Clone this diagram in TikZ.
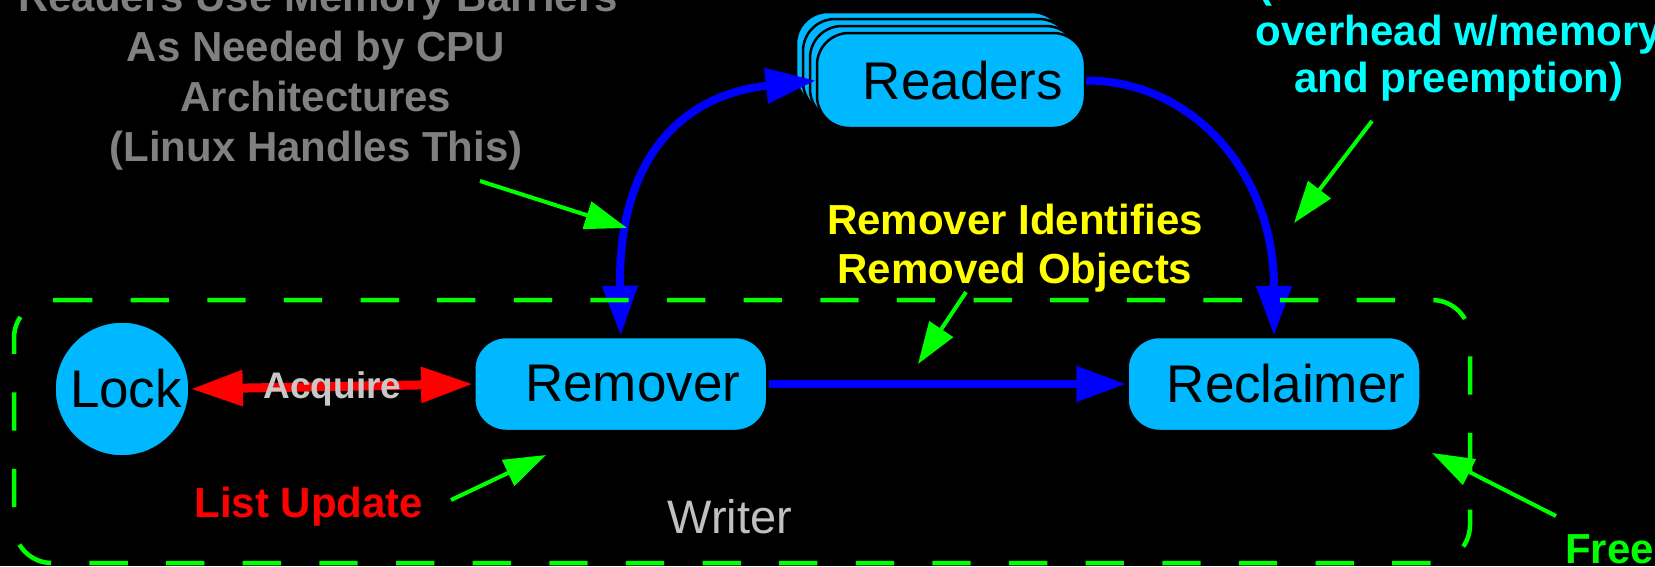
\documentclass[tikz,border=0pt]{standalone}
\usepackage{fontspec}
\setmainfont{Liberation Sans}
\usetikzlibrary{arrows.meta}

\definecolor{boxcyan}{RGB}{0,184,255}
\definecolor{pblue}{RGB}{0,0,255}
\definecolor{pred}{RGB}{255,0,0}
\definecolor{pgreen}{RGB}{0,255,0}
\definecolor{pyellow}{RGB}{255,255,0}
\definecolor{pcyan}{RGB}{0,255,255}
\definecolor{noteGray}{RGB}{128,128,128}
\definecolor{silverText}{RGB}{192,192,192}
\definecolor{acqText}{RGB}{200,200,200}

% box labels sit a little right of the box centre
\newcommand\padlabel[1]{\hspace*{24pt}#1}

\begin{document}
\begin{tikzpicture}[x=1pt, y=-1pt,
  stackbox/.style={draw=black, line width=2.5pt, fill=boxcyan, rounded corners=32pt,
    inner sep=0pt, minimum width=293pt, minimum height=94pt,
    font=\fontsize{53}{60}\selectfont},
  readerbox/.style={stackbox, minimum width=268pt, minimum height=95pt},
  lockshape/.style={circle, draw=black, line width=2.5pt, fill=boxcyan,
    minimum size=135pt, inner sep=0pt, font=\fontsize{53}{60}\selectfont},
  note/.style={anchor=base, inner sep=0pt, font=\fontsize{42}{50}\selectfont\bfseries},
  flow/.style={draw=pblue, line width=8pt, >={Triangle[length=50pt,width=34pt]}},
  grab/.style={draw=pred, line width=9pt, >={Triangle[length=52pt,width=34pt]}},
  pointer/.style={draw=pgreen, line width=4pt, -{Triangle[length=42pt,width=28pt]}},
  writerline/.style={draw=pgreen, line width=4.5pt,
    dash pattern=on 38.3pt off 38.33pt, rounded corners=38pt},
]
\clip (0,0) rectangle (1655,566);
\fill[black] (0,0) rectangle (1655,566);

% ---- readers: a stack of boxes ----
\node[readerbox] (rdb3) at (930,59.5) {};
\node[readerbox] (rdb2) at (937,66.5) {};
\node[readerbox] (rdb1) at (944,73.5) {};
\node[readerbox] (rd)   at (951,80.5) {\padlabel{Readers}};

% ---- writer side ----
\node[lockshape] (lk) at (122,389) {\hspace*{8pt}Lock};
\node[stackbox] (rm) at (620.75,384) {\padlabel{Remover}};
\node[stackbox] (rc) at (1274,384) {\padlabel{Reclaimer}};

% ---- data flow ----
\draw[flow, <->] (rm.north) .. controls (618,160) and (680,95) .. (rd.west);
\draw[flow, ->] (rd.east) .. controls (1190,80.5) and (1274,170) .. (rc.north);
\draw[flow, ->] (rm.east) -- (rc.west);
\draw[grab, <->] (lk.east) -- (rm.west);
\node[anchor=base, inner sep=0pt, text=acqText, font=\fontsize{37}{44}\selectfont\bfseries]
  (acq) at (332.5,398) {Acquire};

% ---- writer boundary ----
\draw[writerline] (54,300) -- (1470,300) -- (1470,563) -- (14,563) -- (14,300) -- (54,300);
\node[anchor=base, inner sep=0pt, text=silverText, font=\fontsize{47}{56}\selectfont]
  (wr) at (730,533) {Writer};

% ---- annotations ----
\node[note, text=noteGray] (mb1) at (318,11)  {Readers Use Memory Barriers};
\node[note, text=noteGray] (mb2) at (316,61)  {As Needed by CPU};
\node[note, text=noteGray] (mb3) at (316,111) {Architectures};
\node[note, text=noteGray] (mb4) at (316,161) {(Linux Handles This)};

\node[note, text=pcyan, anchor=base west] (ov0) at (1258,-3) {(};
\node[note, text=pcyan] (ov1) at (1459,45) {overhead w/memory};
\node[note, text=pcyan] (ov2) at (1459,92) {and preemption)};

\node[note, text=pyellow] (ri1) at (1015,234) {Remover Identifies};
\node[note, text=pyellow] (ri2) at (1015,283) {Removed Objects};

\node[note, text=pred] (lu) at (309,517) {List Update};
\node[note, text=pgreen, anchor=base west] (fr) at (1565,563) {Free};

% ---- pointer arrows ----
\coordinate (p1a) at (480,181);  \coordinate (p1b) at (627,228);
\coordinate (p2a) at (1372,121); \coordinate (p2b) at (1294,223);
\coordinate (p3a) at (966,292);  \coordinate (p3b) at (918,364);
\coordinate (p4a) at (451,500);  \coordinate (p4b) at (546,455);
\coordinate (p5a) at (1556,516); \coordinate (p5b) at (1432,453);
\draw[pointer] (p1a) -- (p1b);
\draw[pointer] (p2a) -- (p2b);
\draw[pointer] (p3a) -- (p3b);
\draw[pointer] (p4a) -- (p4b);
\draw[pointer] (p5a) -- (p5b);
\end{tikzpicture}
\end{document}
